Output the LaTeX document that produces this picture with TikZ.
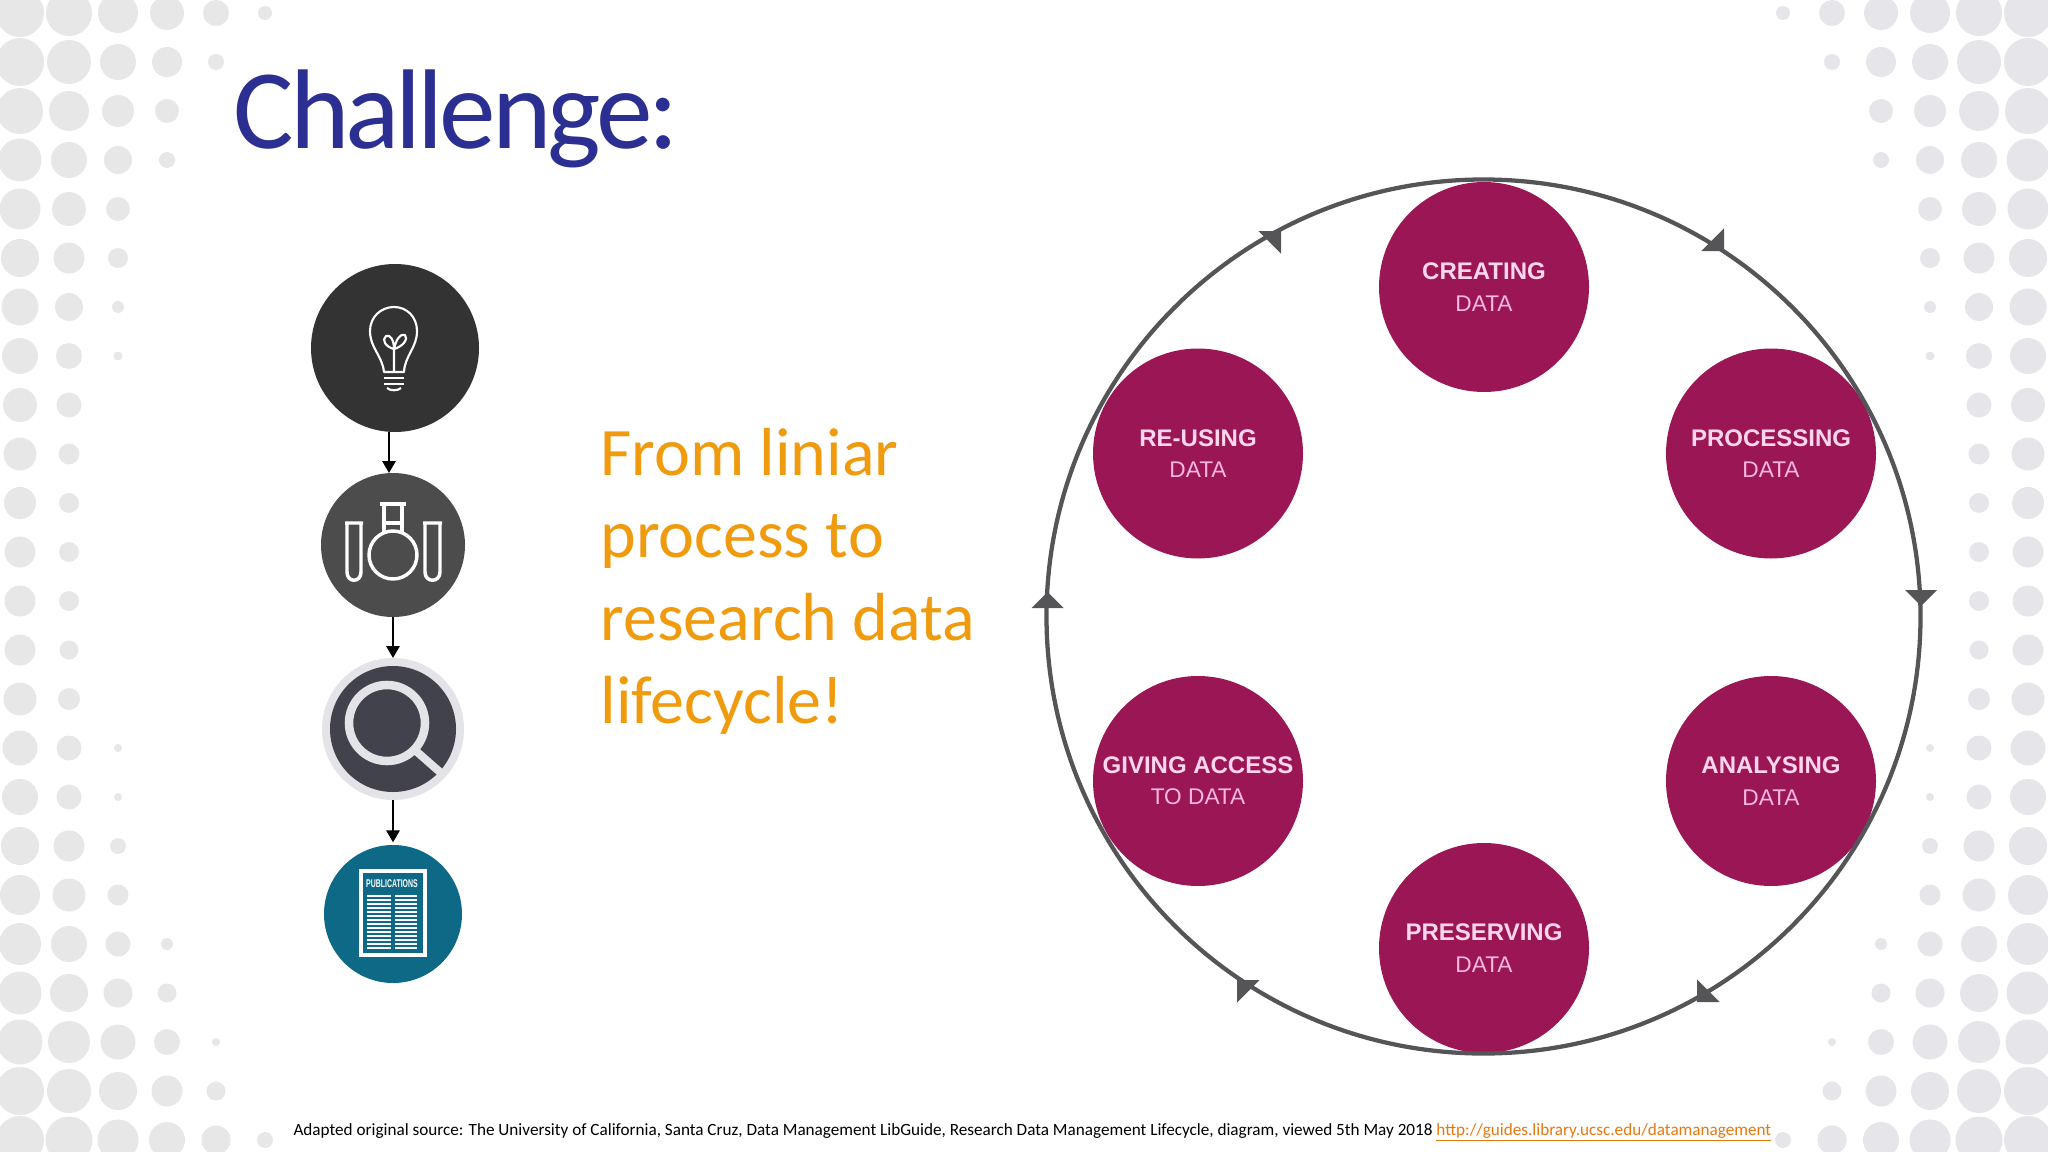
\documentclass[tikz,border=0pt]{standalone}
\usepackage{fontspec}
\usepackage{graphicx}
\usetikzlibrary{arrows.meta}
\setmainfont{Carlito}
\newfontfamily\titlefont[LetterSpace=-3.5]{Carlito}
\newfontfamily\circlefont{Liberation Sans}
\definecolor{dotleft}{RGB}{231,231,231}
\definecolor{dotright}{RGB}{230,229,233}
\definecolor{titleblue}{RGB}{43,47,146}
\definecolor{textorange}{RGB}{240,154,14}
\definecolor{linkorange}{RGB}{232,120,14}
\definecolor{lifemagenta}{RGB}{155,22,85}
\definecolor{lifepink}{RGB}{255,214,236}
\definecolor{lifepinktwo}{RGB}{255,184,222}
\definecolor{ringgrey}{RGB}{85,85,88}
\definecolor{bulbgrey}{RGB}{51,51,51}
\definecolor{flaskgrey}{RGB}{76,76,76}
\definecolor{lensdark}{RGB}{66,66,76}
\definecolor{lenslight}{RGB}{227,227,232}
\definecolor{pubteal}{RGB}{13,105,133}
\tikzset{every picture/.style={line width=0.75pt}}
\tikzset{
  lifecircle/.style={circle,fill=lifemagenta,minimum size=157.5pt,inner sep=0pt,outer sep=0pt,align=center,
    font=\circlefont\fontsize{18}{23.5}\selectfont,text=lifepink},
  iconcircle/.style={circle,inner sep=0pt,outer sep=0pt},
  flowarrow/.style={-{Triangle[length=9pt,width=10pt]},line width=1.5pt},
  iconline/.style={draw=white,line width=1.6pt,line join=round},
  flaskline/.style={draw=white,line width=2.6pt,line join=round}
}
\newcommand{\lifelabel}[2]{\textbf{#1}\\{\fontsize{17}{23.5}\selectfont\color{lifepinktwo}#2}}

\begin{document}
\begin{tikzpicture}[x=0.75pt,y=0.75pt,yscale=-1,xscale=1]
\useasboundingbox (0,0) rectangle (2048,1152);

%Dots left and right
\foreach \dotrow [count=\k from 0] in {{24,23,20,17,13,7},{24,22,18,15,8},{23,20,16,12},{21.5,18,14,8},{20.5,17,12},{19,15.5,10},{18.5,14,6},{18,13,4.5},{17,12.5},{16.5,10.5},{16,10},{15.5,10},{15.5,10},{15.5,9.5},{16.5,11},{17.5,12.5,4},{18,12.5,4},{19,15.5,8},{20,16.5,10.5},{21,18,12.5,6},{21.5,19,14.5,9.5},{22.5,21,17.5,13,4},{24,22,19,15.5,9.5},{24,23.5,20.5,18,14.5,8}}{
  \foreach \dotsize [count=\c from 0] in \dotrow {
    \fill [dotleft] ({20+49*\c},{13+49*\k}) circle (\dotsize);
    \fill [dotright] ({2028-49*\c},{13+49*\k}) circle (\dotsize);
  }
}

% Text Node
\draw (233,149) node (title) [anchor=base west,inner sep=0pt,text=titleblue,font=\titlefont\fontsize{85}{85}\selectfont] {Challenge:};
% Text Node
\draw (600,581) node (slogan) [anchor=west,inner sep=0pt,align=left,text=textorange,font=\fontsize{51}{62}\selectfont] {From liniar\\process to\\research data\\lifecycle!};
% Text Node
\draw (293,1135) node (source) [anchor=base west,inner sep=0pt,font=\fontsize{12.87}{16}\selectfont] {Adapted original source: The University of California, Santa Cruz, Data Management LibGuide, Research Data Management Lifecycle, diagram, viewed 5th May 2018 {\color{linkorange}\underline{http://guides.library.ucsc.edu/datamanagement}}};

%Shape: Circle
\draw (395,348) node (bulb) [iconcircle,fill=bulbgrey,minimum size=126pt] {};
\draw (393,545) node (flask) [iconcircle,fill=flaskgrey,minimum size=108pt] {};
\draw (393,729) node (lens) [iconcircle,fill=lenslight,minimum size=106.5pt] {};
\draw (393,914) node (pub) [iconcircle,fill=pubteal,minimum size=103.5pt] {};

%Straight Lines
\draw [flowarrow] ([xshift=-4.5pt]bulb.south) -- ([xshift=-3pt]flask.north);
\draw [flowarrow] (flask.south) -- (lens.north);
\draw [flowarrow] (lens.south) -- ([yshift=-2pt]pub.north);

%Bulb icon
\draw [iconline] (384,372) .. controls (382,355) and (370,348) .. (370,331) .. controls (370,317) and (381,307) .. (394,307) .. controls (407,307) and (417,317) .. (417,331) .. controls (417,348) and (405,355) .. (404,372) -- cycle;
\draw [iconline] (394,372) -- (394,349) .. controls (386,347) and (381,340) .. (386,336) .. controls (390,334) and (394,340) .. (394,349) .. controls (396,340) and (400,333) .. (405,335) .. controls (409,339) and (402,347) .. (394,349);
\draw [iconline] (384,372) -- (404,372) (384,378) -- (404,378) (384,384) -- (404,384);
\draw [iconline] (387,388) .. controls (390,391) and (398,391) .. (401,388);

%Flask icon
\draw [flaskline] (380,504) -- (406,504) (384,504) -- (384,534) (402,504) -- (402,534) (384,523) -- (402,523);
\draw [flaskline] (393,555) circle (24);
\draw [flaskline] (345,523) -- (363,523) (347,523) -- (347,572) .. controls (347,583) and (361,583) .. (361,572) -- (361,523);
\draw [flaskline] (423,523) -- (442,523) (425,523) -- (425,572) .. controls (425,583) and (440,583) .. (440,572) -- (440,523);

%Lens icon
\fill [lensdark] (393,729) circle (63);
\draw [lenslight,line width=6.4pt] (387,723) circle (38);
\draw [lenslight,line width=6pt] (416,751) -- (441,773);

%Publications icon
\draw [white,line width=2.5pt] (361,871) rectangle (425,955);
\draw (392,884) node (pubtext) [inner sep=0pt,text=white] {\scalebox{.62}[1]{\fontsize{8.4}{10}\selectfont\circlefont\bfseries PUBLICATIONS}};
\foreach \y in {896,900,...,948}{
  \draw [white,line width=2pt] (367,\y) -- (391,\y) (395,\y) -- (417,\y);
}

%Shape: Circle
\draw (1484,287) node (creating) [lifecircle] {\lifelabel{CREATING}{DATA}};
\draw (1771,453.5) node (processing) [lifecircle] {\lifelabel{PROCESSING}{DATA}};
\draw (1771,781) node (analysing) [lifecircle] {\lifelabel{ANALYSING}{DATA}};
\draw (1484,948) node (preserving) [lifecircle] {\lifelabel{PRESERVING}{DATA}};
\draw (1198,781) node (giving) [lifecircle] {\lifelabel{GIVING ACCESS}{TO DATA}};
\draw (1198,453.5) node (reusing) [lifecircle] {\lifelabel{RE-USING}{DATA}};

%Shape: Circle
\draw [ringgrey,line width=3.2pt] (1483.5,616.5) circle (437);

%Arrow heads on the ring
\foreach \tipx/\tipy/\tiprot in {1281/231/-45,1724/251/45,1921/606/90,1697/1002/135,1237/980/225,1047.6/592/-90}{
  \fill [ringgrey,shift={(\tipx,\tipy)},rotate=\tiprot] (-16,-16) -- (0,0) -- (-16,16) -- cycle;
}

\end{tikzpicture}
\end{document}
